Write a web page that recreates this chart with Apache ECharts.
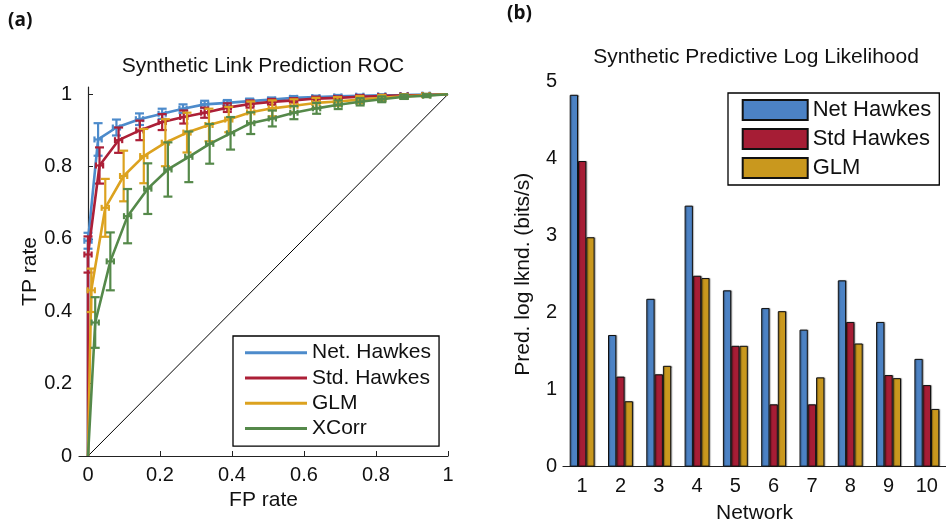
<!DOCTYPE html>
<html>
<head>
<meta charset="utf-8">
<script src="https://cdn.jsdelivr.net/npm/echarts@6.0.0/dist/echarts.min.js"></script>
<style>
html,body{margin:0;padding:0;background:#fff;}
#chart{width:946px;height:529px;}
</style>
</head>
<body>
<div id="chart"></div>
<script>
// ---------- Panel (a): ROC data ----------
const rocNames = ['Net. Hawkes', 'Std. Hawkes', 'GLM', 'XCorr'];
const netFP  = [0, 0.000, 0.028, 0.079, 0.143, 0.206, 0.264, 0.324, 0.387, 0.449, 0.510, 0.571, 0.633, 0.694, 0.755, 0.816, 0.878, 0.939, 1.0];
const netTP  = [0, 0.595, 0.875, 0.908, 0.931, 0.946, 0.960, 0.972, 0.976, 0.981, 0.985, 0.990, 0.992, 0.994, 0.996, 0.997, 0.998, 0.999, 1.0];
const netErr = [0, 0.022, 0.045, 0.022, 0.016, 0.014, 0.012, 0.010, 0.008, 0.007, 0.006, 0.005, 0.004, 0.004, 0.003, 0.003, 0.002, 0.002, 0];
const stdFP  = [0, 0.000, 0.032, 0.085, 0.144, 0.206, 0.266, 0.324, 0.387, 0.450, 0.510, 0.571, 0.633, 0.694, 0.755, 0.816, 0.878, 0.939, 1.0];
const stdTP  = [0, 0.557, 0.803, 0.873, 0.900, 0.923, 0.937, 0.949, 0.963, 0.973, 0.979, 0.983, 0.988, 0.990, 0.993, 0.995, 0.997, 0.998, 1.0];
const stdErr = [0, 0.050, 0.050, 0.035, 0.027, 0.022, 0.018, 0.014, 0.012, 0.010, 0.008, 0.006, 0.005, 0.004, 0.004, 0.003, 0.003, 0.002, 0];
const glmFP  = [0, 0.009, 0.048, 0.099, 0.155, 0.215, 0.275, 0.336, 0.391, 0.452, 0.512, 0.572, 0.633, 0.693, 0.755, 0.816, 0.878, 0.939, 1.0];
const glmTP  = [0, 0.458, 0.686, 0.774, 0.829, 0.866, 0.894, 0.915, 0.930, 0.950, 0.961, 0.968, 0.976, 0.980, 0.985, 0.990, 0.994, 0.997, 1.0];
const glmErr = [0, 0.060, 0.080, 0.070, 0.075, 0.065, 0.055, 0.045, 0.035, 0.030, 0.022, 0.018, 0.014, 0.012, 0.010, 0.008, 0.006, 0.004, 0];
const xcFP   = [0, 0.020, 0.062, 0.110, 0.166, 0.222, 0.280, 0.338, 0.396, 0.452, 0.512, 0.572, 0.635, 0.695, 0.756, 0.816, 0.878, 0.941, 1.0];
const xcTP   = [0, 0.369, 0.538, 0.663, 0.739, 0.792, 0.827, 0.863, 0.892, 0.920, 0.933, 0.949, 0.961, 0.971, 0.979, 0.986, 0.993, 0.996, 1.0];
const xcErr  = [0, 0.070, 0.080, 0.075, 0.070, 0.075, 0.070, 0.055, 0.045, 0.030, 0.022, 0.018, 0.015, 0.012, 0.010, 0.008, 0.006, 0.004, 0];
const chanceLine = [[0, 0], [1, 1]];
const rocTicks = [0, 0.2, 0.4, 0.6, 0.8, 1];

// ---------- Panel (b): log likelihood data ----------
const networks = ['1', '2', '3', '4', '5', '6', '7', '8', '9', '10'];
const barNames = ['Net Hawkes', 'Std Hawkes', 'GLM '];
const netLL = [4.83, 1.71, 2.18, 3.39, 2.29, 2.06, 1.78, 2.42, 1.88, 1.40];
const stdLL = [3.97, 1.17, 1.20, 2.48, 1.57, 0.81, 0.81, 1.88, 1.19, 1.06];
const glmLL = [2.98, 0.85, 1.31, 2.45, 1.57, 2.02, 1.16, 1.60, 1.15, 0.75];

const lineColors = ['#4D8BCB', '#AC1F37', '#DCA21F', '#55894A'];
const barColors = ['#4C82C4', '#A61D35', '#C9981E'];
const FONT = '"Liberation Sans", Arial, Helvetica, sans-serif';

const rocSets = [
  [netFP, netTP, netErr],
  [stdFP, stdTP, stdErr],
  [glmFP, glmTP, glmErr],
  [xcFP, xcTP, xcErr]
];

function errRender(color) {
  return function (params, api) {
    const e = api.value(2);
    if (!(e > 0)) return null;
    const x = api.value(0), y = api.value(1);
    const c = api.coord([x, y]);
    const hi = api.coord([x, y + e]);
    const lo = api.coord([x, y - e]);
    const l = api.coord([x - 0.01, y]);
    const r = api.coord([x + 0.01, y]);
    const cw = 4.5, ch = 3;
    const st = { stroke: color, lineWidth: 2.2, fill: null };
    const seg = (x1, y1, x2, y2) => ({ type: 'line', shape: { x1, y1, x2, y2 }, style: st });
    return {
      type: 'group',
      children: [
        seg(c[0], hi[1], c[0], lo[1]),
        seg(c[0] - cw, hi[1], c[0] + cw, hi[1]),
        seg(c[0] - cw, lo[1], c[0] + cw, lo[1]),
        seg(l[0], c[1], r[0], c[1]),
        seg(l[0], c[1] - ch, l[0], c[1] + ch),
        seg(r[0], c[1] - ch, r[0], c[1] + ch)
      ]
    };
  };
}

const series = [];
series.push({
  type: 'line', xAxisIndex: 0, yAxisIndex: 0, data: chanceLine, symbol: 'none', silent: true,
  lineStyle: { color: '#000', width: 1 }, z: 1
});
rocSets.forEach((s, i) => {
  const pts = s[0].map((fp, k) => [fp, s[1][k]]);
  const errPts = s[0].map((fp, k) => [fp, s[1][k], s[2][k]]);
  series.push({
    name: rocNames[i], type: 'line', xAxisIndex: 0, yAxisIndex: 0, data: pts,
    symbol: 'none', lineStyle: { color: lineColors[i], width: 2.6 },
    itemStyle: { color: lineColors[i] }, z: 3 + i * 2
  });
  series.push({
    name: 'err' + i, type: 'custom', xAxisIndex: 0, yAxisIndex: 0, data: errPts,
    renderItem: errRender(lineColors[i]), encode: { x: 0, y: 1 }, silent: true, z: 4 + i * 2
  });
});
[netLL, stdLL, glmLL].forEach((vals, i) => {
  series.push({
    name: barNames[i], type: 'bar', xAxisIndex: 1, yAxisIndex: 1, data: vals,
    barWidth: 8.3, barGap: '0%',
    itemStyle: {
      color: barColors[i], borderColor: '#111', borderWidth: 1,
      shadowColor: 'rgba(0,0,0,0.35)', shadowOffsetX: 1, shadowOffsetY: 0, shadowBlur: 1
    }
  });
});

const axisLineStyle = { lineStyle: { color: '#222', width: 1.2 } };
const tickStyle = { inside: true, length: 5, lineStyle: { color: '#222', width: 1 } };
const labelStyle = { color: '#111', fontSize: 20, fontFamily: FONT };
const nameStyle = { color: '#111', fontSize: 21, fontFamily: FONT };

const option = {
  animation: false,
  backgroundColor: '#fff',
  title: [
    { text: '(a)', left: 8, top: 11, padding: 0,
      textStyle: { fontSize: 19, fontWeight: 'bold', fontFamily: '"Open Sans", sans-serif', color: '#111' } },
    { text: '(b)', left: 507, top: 4, padding: 0,
      textStyle: { fontSize: 19, fontWeight: 'bold', fontFamily: '"Open Sans", sans-serif', color: '#111' } },
    { text: 'Synthetic Link Prediction ROC', left: 263, top: 56, padding: 0, textAlign: 'center',
      textStyle: { fontSize: 21, fontWeight: 'normal', fontFamily: FONT, color: '#111' } },
    { text: 'Synthetic Predictive Log Likelihood', left: 756, top: 47, padding: 0, textAlign: 'center',
      textStyle: { fontSize: 21, fontWeight: 'normal', fontFamily: FONT, color: '#111' } }
  ],
  legend: [
    {
      data: rocNames, orient: 'vertical', left: 233, top: 336,
      padding: [4, 8, 5, 12], itemGap: 0, itemWidth: 62, itemHeight: 3, icon: 'rect',
      borderColor: '#000', borderWidth: 1.3, backgroundColor: '#fff',
      selectedMode: false,
      textStyle: { fontSize: 21, fontFamily: FONT, color: '#111', lineHeight: 25.3 }
    },
    {
      data: barNames, orient: 'vertical', left: 728, top: 93,
      padding: [6, 8, 6, 13.7], itemGap: 7, itemWidth: 65, itemHeight: 20, icon: 'rect',
      borderColor: '#000', borderWidth: 1.3, backgroundColor: '#fff',
      selectedMode: false,
      formatter: n => n.trim(),
      textStyle: { fontSize: 22, fontFamily: FONT, color: '#111' }
    }
  ],
  grid: [
    { left: 79, top: 87, width: 369, height: 369 },
    { left: 563, top: 81.7, width: 385, height: 385 }
  ],
  xAxis: [
    {
      gridIndex: 0, type: 'value', min: -0.025, max: 1,
      name: 'FP rate', nameLocation: 'middle', nameGap: 28, nameTextStyle: nameStyle,
      axisLine: axisLineStyle,
      axisTick: Object.assign({ customValues: rocTicks }, tickStyle),
      axisLabel: Object.assign({ customValues: rocTicks, margin: 9, formatter: v => String(v) }, labelStyle),
      splitLine: { show: false }
    },
    {
      gridIndex: 1, type: 'category', data: networks,
      name: 'Network', nameLocation: 'middle', nameGap: 36, nameTextStyle: nameStyle,
      axisLine: axisLineStyle, axisTick: { show: false },
      axisLabel: Object.assign({ margin: 10 }, labelStyle),
      splitLine: { show: false }
    }
  ],
  yAxis: [
    {
      gridIndex: 0, type: 'value', min: 0, max: 1.02,
      name: 'TP rate', nameLocation: 'middle', nameGap: 38, nameTextStyle: nameStyle,
      axisLine: axisLineStyle,
      axisTick: Object.assign({ customValues: rocTicks }, tickStyle),
      axisLabel: Object.assign({ customValues: rocTicks, margin: 7, formatter: v => String(v) }, labelStyle),
      splitLine: { show: false }
    },
    {
      gridIndex: 1, type: 'value', min: 0, max: 5, interval: 1,
      name: 'Pred. log lknd. (bits/s)', nameLocation: 'middle', nameGap: 29, nameTextStyle: nameStyle,
      axisLine: axisLineStyle,
      axisTick: tickStyle,
      axisLabel: Object.assign({ margin: 6 }, labelStyle),
      splitLine: { show: false }
    }
  ],
  series: series
};

const chart = echarts.init(document.getElementById('chart'), null, { renderer: 'canvas' });
chart.setOption(option);
</script>
</body>
</html>
